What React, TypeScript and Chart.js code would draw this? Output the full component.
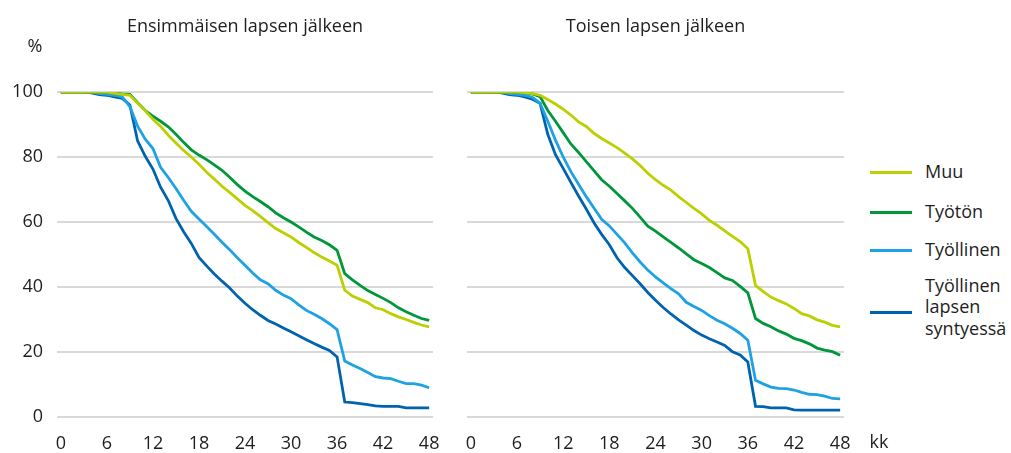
import React, { useEffect, useRef } from "react";
import { Chart, registerables } from "chart.js";

Chart.register(...registerables);

const months: string[] = Array.from({ length: 49 }, (_, i) => String(i));

const seriesNames = ["Muu", "Työtön", "Työllinen", "Työllinen lapsen syntyessä"];
const seriesColors = ["#bccf00", "#00973a", "#1ea2e4", "#0063af"];

// Ensimmäisen lapsen jälkeen
const firstMuu = [100, 100, 100, 100, 100, 100, 100, 99.6, 99.3, 99, 96.5, 94.2, 91.6, 89.4, 86.7, 84.3, 82, 80, 77.8, 75.3, 73.2, 71, 69.1, 67.1, 65.1, 63.5, 61.7, 59.8, 58, 56.7, 55.4, 53.7, 52.2, 50.6, 49.2, 48, 46.7, 39, 37.2, 36.2, 35.2, 33.6, 33, 31.8, 30.8, 30, 29.1, 28.3, 27.7];
const firstTyoton = [100, 100, 100, 100, 100, 100, 100, 99.6, 99.4, 99.3, 96.7, 94.3, 92.6, 91, 89.3, 87, 84.5, 82.2, 80.6, 79.2, 77.6, 75.9, 73.8, 71.5, 69.5, 67.8, 66.3, 64.7, 62.8, 61.3, 60, 58.5, 56.9, 55.4, 54.3, 53, 51.3, 44.1, 42.2, 40.5, 38.9, 37.7, 36.5, 35.2, 33.6, 32.4, 31.3, 30.3, 29.7];
const firstTyollinen = [100, 100, 100, 100, 100, 99.5, 99.3, 99, 98.5, 95.5, 89.5, 85.5, 82.6, 76.8, 73.7, 70.3, 66.7, 63.3, 60.9, 58.6, 56.2, 53.8, 51.5, 49, 46.7, 44.3, 42.2, 41, 39, 37.5, 36.4, 34.5, 32.8, 31.6, 30.3, 28.7, 26.9, 17.2, 16, 14.9, 13.7, 12.4, 12, 11.8, 11, 10.3, 10.3, 9.8, 9.0];
const firstSyntyessa = [100, 100, 100, 100, 99.7, 99.2, 99, 98.5, 98, 96, 85, 80.2, 76.3, 70.7, 66.6, 61.1, 57, 53.4, 49.1, 46.5, 44, 41.8, 39.7, 37.2, 35, 33, 31.3, 29.7, 28.6, 27.4, 26.2, 25, 23.8, 22.6, 21.5, 20.5, 18.5, 4.6, 4.4, 4.1, 3.8, 3.4, 3.3, 3.3, 3.3, 2.8, 2.8, 2.8, 2.8];

// Toisen lapsen jälkeen
const secondMuu = [100, 100, 100, 100, 100, 100, 100, 99.8, 99.5, 99, 97.7, 96.3, 94.7, 92.9, 90.8, 89.4, 87.3, 85.7, 84.3, 82.9, 81.2, 79.4, 77.4, 75, 73, 71.3, 69.8, 67.8, 66, 64.2, 62.5, 60.5, 59, 57.3, 55.6, 54, 51.8, 40.5, 38.6, 36.9, 35.8, 34.8, 33.4, 31.8, 31.1, 29.9, 29.2, 28.2, 27.7];
const secondTyoton = [100, 100, 100, 100, 100, 100, 100, 99.8, 99.4, 98.6, 94.3, 91, 87.5, 84, 81.4, 78.6, 75.8, 73, 71, 68.8, 66.5, 64.2, 61.5, 58.7, 57.2, 55.4, 53.7, 52, 50.2, 48.4, 47.2, 46, 44.4, 42.8, 42, 40.2, 38.2, 30.3, 28.8, 27.8, 26.5, 25.5, 24.2, 23.5, 22.5, 21.2, 20.6, 20.1, 19];
const secondTyollinen = [100, 100, 100, 100, 100, 99.5, 99.3, 99, 98.4, 96.5, 91, 85.2, 80, 75.5, 71.6, 67.8, 64.3, 60.8, 58.8, 56.2, 53.6, 50.5, 47.7, 45.2, 43.1, 41.3, 39.5, 37.9, 35.3, 34, 32.8, 31.2, 29.8, 28.7, 27.3, 25.7, 23.6, 11.3, 10.2, 9.2, 8.8, 8.7, 8.3, 7.6, 7, 6.9, 6.4, 5.7, 5.6];
const secondSyntyessa = [100, 100, 100, 100, 99.7, 99.2, 99, 98.5, 97.8, 96.5, 87, 80.7, 76.5, 72.2, 68, 64, 59.8, 56.2, 53, 49, 46, 43.5, 41, 38.3, 35.9, 33.7, 31.7, 29.9, 28.3, 26.6, 25.2, 24.1, 23.1, 22, 20.1, 19.1, 16.9, 3.3, 3.2, 2.8, 2.8, 2.8, 2.2, 2.1, 2.1, 2.1, 2.1, 2.1, 2.1];

const yTicks = [0, 20, 40, 60, 80, 100];

const FONT = "'Open Sans', sans-serif";
const TEXT = "#1e1e1e";

function Panel(props: { data: number[][]; showY: boolean; width: number; padLeft: number; padRight: number }) {
  const ref = useRef<HTMLCanvasElement>(null);
  useEffect(() => {
    if (!ref.current) return;
    const chart = new Chart(ref.current, {
      type: "line",
      data: {
        labels: months,
        datasets: props.data.map((d, i) => ({
          label: seriesNames[i],
          data: d,
          borderColor: seriesColors[i],
          backgroundColor: seriesColors[i],
          borderWidth: 2.8,
          pointRadius: 0,
          tension: 0,
          fill: false,
        })),
      },
      options: {
        animation: false,
        responsive: false,
        layout: { padding: { top: 92, right: props.padRight, bottom: 0, left: props.padLeft } },
        plugins: { legend: { display: false }, tooltip: { enabled: false }, title: { display: false } },
        scales: {
          x: {
            type: "category",
            offset: true,
            grid: { display: false },
            border: { display: false },
            ticks: {
              autoSkip: false,
              maxRotation: 0,
              minRotation: 0,
              padding: 8,
              color: TEXT,
              font: { family: FONT, size: 18 },
              callback: (_v: any, idx: number) => (idx % 6 === 0 ? months[idx] : ""),
            },
            afterFit: (s: any) => {
              s.height = 36;
            },
          },
          y: {
            min: 0,
            max: 100,
            grid: { color: "#d9d9d9", lineWidth: 2, drawTicks: false },
            border: { display: false },
            ticks: {
              display: props.showY,
              stepSize: 20,
              padding: 14,
              color: TEXT,
              font: { family: FONT, size: 18 },
              callback: (v: any) => (yTicks.includes(Number(v)) ? String(v) : ""),
            },
            afterFit: (s: any) => {
              s.width = props.showY ? 57 : 0;
            },
          },
        },
      },
    });
    return () => chart.destroy();
  }, []);
  return <canvas ref={ref} width={props.width} height={453} style={{ display: "block" }} />;
}

const abs = (o: any) => ({ position: "absolute" as const, ...o });

export default function App() {
  const legendRows = [
    { y: 172, lines: ["Muu"], lineY: 172 },
    { y: 212, lines: ["Työtön"], lineY: 212 },
    { y: 250, lines: ["Työllinen"], lineY: 250 },
    { y: 307, lines: ["Työllinen", "lapsen", "syntyessä"], lineY: 312 },
  ];
  return (
    <div style={abs({ left: 0, top: 0, width: 1011, height: 453, background: "#fff", fontFamily: FONT, color: TEXT, fontSize: 18, overflow: "hidden" })}>
      <div style={abs({ left: 0, top: 0, width: 460, height: 453 })}>
        <Panel data={[firstMuu, firstTyoton, firstTyollinen, firstSyntyessa]} showY={true} width={460} padLeft={0} padRight={27} />
      </div>
      <div style={abs({ left: 430, top: 0, width: 440, height: 453 })}>
        <Panel data={[secondMuu, secondTyoton, secondTyollinen, secondSyntyessa]} showY={false} width={440} padLeft={37} padRight={26} />
      </div>
      <div style={abs({ left: 57, top: 13, width: 376, textAlign: "center", lineHeight: "24px" })}>Ensimmäisen lapsen jälkeen</div>
      <div style={abs({ left: 467, top: 13, width: 377, textAlign: "center", lineHeight: "24px" })}>Toisen lapsen jälkeen</div>
      <div style={abs({ left: 20, top: 33, width: 30, textAlign: "center", lineHeight: "24px" })}>%</div>
      <div style={abs({ left: 864, top: 429, width: 30, textAlign: "center", lineHeight: "24px" })}>kk</div>
      {legendRows.map((r, i) => (
        <React.Fragment key={i}>
          <div style={abs({ left: 870, top: r.lineY - 1.5, width: 42, height: 3, background: seriesColors[i] })} />
          <div style={abs({ left: 925, top: r.y - (r.lines.length * 21.5) / 2, lineHeight: "21.5px" })}>
            {r.lines.map((l, j) => (
              <div key={j}>{l}</div>
            ))}
          </div>
        </React.Fragment>
      ))}
    </div>
  );
}
